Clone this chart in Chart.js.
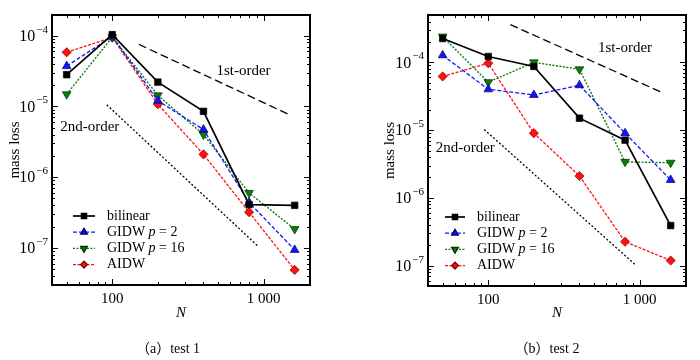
<!DOCTYPE html>
<html>
<head>
<meta charset="utf-8">
<script src="https://cdn.jsdelivr.net/npm/chart.js@4.4.1/dist/chart.umd.min.js"></script>
<style>
  body { margin: 0; background: #fff; width: 700px; height: 360px; position: relative; overflow: hidden; }
  .box { position: absolute; top: 0; width: 350px; height: 360px; }
  .cap { position: absolute; top: 337px; width: 200px; text-align: center; font-size: 14px;
         font-family: "Liberation Serif", "Noto Sans CJK SC", serif; color: #000; }
</style>
</head>
<body>
<div class="box" style="left:0"><canvas id="c1" width="350" height="360"></canvas></div>
<div class="box" style="left:350px"><canvas id="c2" width="350" height="360"></canvas></div>
<div class="cap" style="left:68px">（a）test 1</div>
<div class="cap" style="left:447px">（b）test 2</div>
<script>
var N = [50, 100, 200, 400, 800, 1600];
var names = ['bilinear', 'GIDW p = 2', 'GIDW p = 16', 'AIDW'];

// test 1
var bilinear1 = [2.8e-5, 1.03e-4, 2.2e-5, 8.5e-6, 4.1e-7, 4.0e-7];
var gidw2_1 = [3.7e-5, 0.97e-4, 1.2e-5, 4.7e-6, 4.4e-7, 9.4e-8];
var gidw16_1 = [1.48e-5, 0.95e-4, 1.43e-5, 4.0e-6, 6.0e-7, 1.85e-7];
var aidw1 = [5.8e-5, 0.94e-4, 1.07e-5, 2.1e-6, 3.2e-7, 4.9e-8];

// test 2
var bilinear2 = [2.25e-4, 1.22e-4, 8.7e-5, 1.5e-5, 7.1e-6, 3.9e-7];
var gidw2_2 = [1.27e-4, 4.0e-5, 3.3e-5, 4.6e-5, 9.0e-6, 1.84e-6];
var gidw16_2 = [2.4e-4, 5.1e-5, 1.0e-4, 7.9e-5, 3.4e-6, 3.3e-6];
var aidw2 = [6.2e-5, 9.7e-5, 9.0e-6, 2.1e-6, 2.25e-7, 1.19e-7];

// order-of-convergence guide lines
var order1N_a = [150, 1500], order1V_a = [7.5e-5, 7.5e-6];
var order2N_a = [92, 920], order2V_a = [1.05e-5, 1.05e-7];
var order1N_b = [140, 1400], order1V_b = [3.6e-4, 3.6e-5];
var order2N_b = [94, 940], order2V_b = [1.02e-5, 1.02e-7];

var yTickExp = [-7, -6, -5, -4];
var xTickVals = [100, 1000];
var xTickLabels = ['100', '1 000'];

var FONT = '"Liberation Serif", "Times New Roman", serif';

var styles = [
  { color: '#000000', dash: [], width: 1.7, point: 'rect', rot: 0, r: 4.6, edge: '#000000' },
  { color: '#1414ff', dash: [4, 2], width: 1.3, point: 'triangle', rot: 0, r: 5, edge: '#00006a' },
  { color: '#0a7d0a', dash: [2, 1.5], width: 1.4, point: 'triangle', rot: 180, r: 5, edge: '#003300' },
  { color: '#ff1010', dash: [3, 1.5], width: 1.3, point: 'rectRot', rot: 0, r: 4.6, edge: '#7a0000' }
];

function pts(xs, ys) {
  return xs.map(function (x, i) { return { x: x, y: ys[i] }; });
}

function seriesSet(i, vals) {
  var s = styles[i];
  return {
    label: names[i], data: pts(N, vals),
    borderColor: s.color, borderWidth: s.width, borderDash: s.dash,
    pointStyle: s.point, rotation: s.rot, pointRadius: s.r,
    pointBackgroundColor: s.color, pointBorderColor: s.edge, pointBorderWidth: 0.7,
    tension: 0, fill: false
  };
}

function guideSet(xs, ys, dash) {
  return {
    label: '', data: pts(xs, ys), borderColor: '#000', borderWidth: 1.3,
    borderDash: dash, pointRadius: 0, fill: false, order: 5
  };
}

function line(ctx, x1, y1, x2, y2) {
  ctx.beginPath(); ctx.moveTo(x1, y1); ctx.lineTo(x2, y2); ctx.stroke();
}

var deco = {
  id: 'deco',
  afterDraw: function (chart) {
    var o = chart.options.plugins.deco;
    var ctx = chart.ctx, a = chart.chartArea;
    var xs = chart.scales.x, ys = chart.scales.y;
    ctx.save();
    ctx.strokeStyle = '#000'; ctx.lineWidth = 1; ctx.setLineDash([]);

    // y ticks, both sides, inward
    for (var e = -9; e <= -3; e++) {
      for (var m = 1; m < 10; m++) {
        var v = m * Math.pow(10, e);
        if (v <= ys.min || v >= ys.max) continue;
        var py = Math.round(ys.getPixelForValue(v)) + 0.5;
        var len = m === 1 ? 6 : 3;
        line(ctx, a.left, py, a.left + len, py);
        line(ctx, a.right, py, a.right - len, py);
      }
    }
    // x ticks, top and bottom
    for (var e2 = 1; e2 <= 3; e2++) {
      for (var m2 = 1; m2 < 10; m2++) {
        var vx = m2 * Math.pow(10, e2);
        if (vx <= xs.min || vx >= xs.max) continue;
        var px = Math.round(xs.getPixelForValue(vx)) + 0.5;
        var lx = m2 === 1 ? 6 : 3;
        line(ctx, px, a.bottom, px, a.bottom - lx);
        line(ctx, px, a.top, px, a.top + lx);
      }
    }
    // frame
    ctx.lineWidth = 2;
    ctx.strokeRect(a.left, a.top, a.right - a.left, a.bottom - a.top);

    // y tick labels 10^n
    ctx.fillStyle = '#000';
    yTickExp.forEach(function (ex) {
      var py = ys.getPixelForValue(Math.pow(10, ex));
      var sup = '\u2212' + Math.abs(ex);
      ctx.font = '11px ' + FONT;
      var sw = ctx.measureText(sup).width;
      var right = a.left - 4;
      ctx.textAlign = 'left'; ctx.textBaseline = 'alphabetic';
      ctx.fillText(sup, right - sw, py - 3);
      ctx.font = '16px ' + FONT;
      ctx.textAlign = 'right'; ctx.textBaseline = 'middle';
      ctx.fillText('10', right - sw - 1, py + 1);
    });
    // x tick labels
    ctx.font = '15px ' + FONT;
    ctx.textAlign = 'center'; ctx.textBaseline = 'middle';
    xTickVals.forEach(function (v, i) {
      ctx.fillText(xTickLabels[i], xs.getPixelForValue(v), a.bottom + 14);
    });

    // order labels
    ctx.font = '15px ' + FONT;
    o.notes.forEach(function (n) {
      ctx.fillText(n.text, xs.getPixelForValue(n.x), ys.getPixelForValue(n.y));
    });

    // legend
    var rowH = 16.2;
    chart.data.datasets.slice(0, 4).forEach(function (ds, i) {
      var s = styles[i];
      var y = o.legY + i * rowH;
      ctx.strokeStyle = s.color; ctx.lineWidth = s.width; ctx.setLineDash(s.dash);
      line(ctx, a.left + o.legX0, y, a.left + o.legX1, y);
      ctx.setLineDash([]);
      ctx.fillStyle = s.color; ctx.strokeStyle = s.edge;
      Chart.helpers.drawPoint(ctx, { pointStyle: s.point, rotation: s.rot, radius: s.r - 1.2, borderWidth: 0.7 },
        a.left + (o.legX0 + o.legX1) / 2, y);
      ctx.fillStyle = '#000';
      ctx.textAlign = 'left'; ctx.textBaseline = 'middle';
      var tx = a.left + o.legText;
      var parts = ds.label.split(' p ');
      if (parts.length === 2) {
        ctx.font = '14px ' + FONT;
        ctx.fillText(parts[0] + ' ', tx, y);
        tx += ctx.measureText(parts[0] + ' ').width;
        ctx.font = 'italic 14px ' + FONT;
        ctx.fillText('p', tx, y);
        tx += ctx.measureText('p').width;
        ctx.font = '14px ' + FONT;
        ctx.fillText(' ' + parts[1], tx, y);
      } else {
        ctx.font = '14px ' + FONT;
        ctx.fillText(ds.label, tx, y);
      }
    });
    ctx.restore();
  }
};

function makeChart(id, series, guides, o) {
  var sets = series.map(function (v, i) { return seriesSet(i, v); });
  sets.push(guideSet(guides[0], guides[1], [8, 4]));
  sets.push(guideSet(guides[2], guides[3], [2, 2]));
  return new Chart(document.getElementById(id).getContext('2d'), {
    type: 'line',
    data: { datasets: sets },
    options: {
      responsive: false,
      animation: false,
      layout: { padding: o.pad },
      plugins: { legend: { display: false }, tooltip: { enabled: false }, deco: o },
      scales: {
        x: {
          type: 'logarithmic', min: 40, max: 2020,
          grid: { display: false }, border: { display: false }, ticks: { display: false },
          title: { display: true, text: 'N', color: '#000', padding: { top: 0, bottom: 0 },
                   font: { family: FONT, size: 15, style: 'italic' } },
          afterFit: function (s) { s.height = o.xh; }
        },
        y: {
          type: 'logarithmic', min: o.ymin, max: o.ymax,
          grid: { display: false }, border: { display: false }, ticks: { display: false },
          title: { display: true, text: 'mass loss', color: '#000', padding: { top: 6, bottom: 0 },
                   font: { family: FONT, size: 15 } },
          afterFit: function (s) { s.width = o.yw; }
        }
      }
    },
    plugins: [deco]
  });
}

makeChart('c1', [bilinear1, gidw2_1, gidw16_1, aidw1],
  [order1N_a, order1V_a, order2N_a, order2V_a],
  { pad: { left: 0, right: 40, top: 15, bottom: 38 }, yw: 52, xh: 37, ymin: 3e-8, ymax: 1.95e-4,
    legY: 216, legX0: 21, legX1: 43, legText: 55,
    notes: [{ text: '1st-order', x: 735, y: 3.1e-5 }, { text: '2nd-order', x: 71, y: 5.1e-6 }] });

makeChart('c2', [bilinear2, gidw2_2, gidw16_2, aidw2],
  [order1N_b, order1V_b, order2N_b, order2V_b],
  { pad: { left: 25, right: 14, top: 15, bottom: 38 }, yw: 53, xh: 36, ymin: 5e-8, ymax: 5e-4,
    legY: 217, legX0: 17, legX1: 37, legText: 49,
    notes: [{ text: '1st-order', x: 799, y: 1.62e-4 }, { text: '2nd-order', x: 70.5, y: 5.47e-6 }] });
</script>
</body>
</html>
